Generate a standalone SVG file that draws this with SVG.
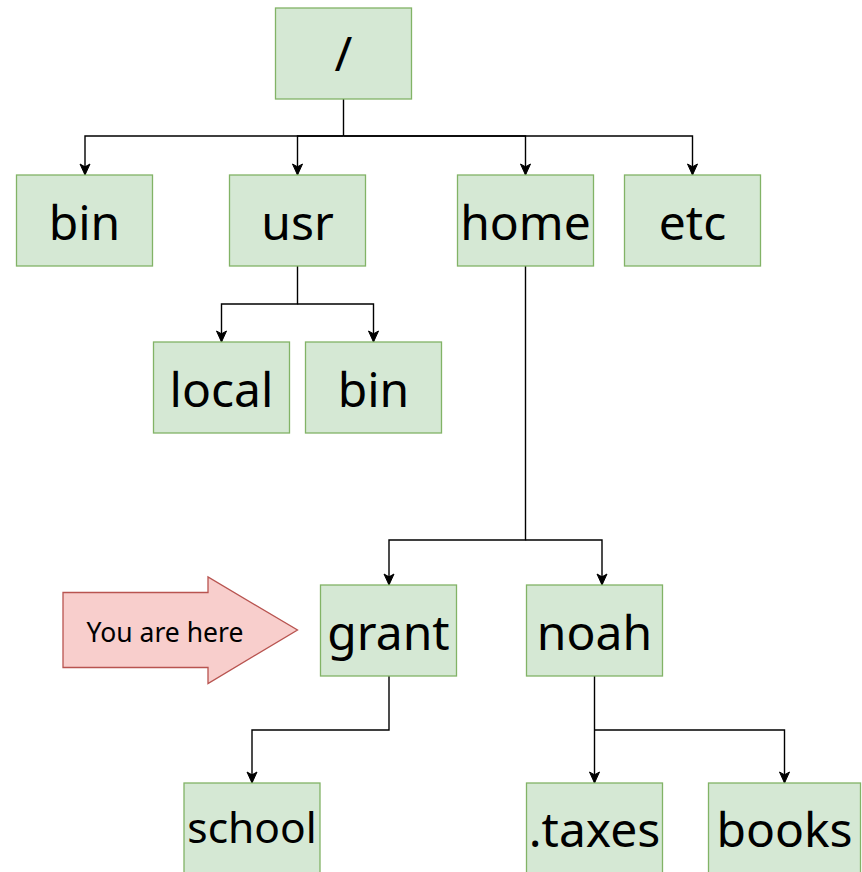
<svg xmlns="http://www.w3.org/2000/svg" width="862" height="872" viewBox="0 0 862 872">
  <style>
    .box { fill: #d5e8d4; stroke: #82b366; stroke-width: 1.3; }
    .lbl { font-family: "Noto Sans", "Open Sans", sans-serif; font-size: 48px; fill: #000; text-anchor: middle; }
    .edge { fill: none; stroke: #000; stroke-width: 1.4; }
    .pointer { fill: #f8cecc; stroke: #b85450; stroke-width: 1.3; }
  </style>
  <defs>
    <marker id="arrow" markerUnits="userSpaceOnUse" markerWidth="13" markerHeight="13" refX="12" refY="6.5" orient="auto">
      <path d="M1,1.5 L12,6.5 L1,11.5 L3.8,6.5 z" fill="#000" stroke="#000" stroke-width="1"/>
    </marker>
  </defs>
  <rect width="862" height="872" fill="#fff"/>

  <g id="connectors">
    <path class="edge" d="M343.5,99 V136"/>
    <path class="edge" d="M343.5,136 H85 V175" marker-end="url(#arrow)"/>
    <path class="edge" d="M343.5,136 H297.5 V175" marker-end="url(#arrow)"/>
    <path class="edge" d="M343.5,136 H525.5 V175" marker-end="url(#arrow)"/>
    <path class="edge" d="M343.5,136 H692.5 V175" marker-end="url(#arrow)"/>
    <path class="edge" d="M297.5,266 V304 H221.5 V342" marker-end="url(#arrow)"/>
    <path class="edge" d="M297.5,304 H373.5 V342" marker-end="url(#arrow)"/>
    <path class="edge" d="M525.5,266 V540 H389 V585" marker-end="url(#arrow)"/>
    <path class="edge" d="M525.5,540 H602 V585" marker-end="url(#arrow)"/>
    <path class="edge" d="M389,676 V730 H252 V783" marker-end="url(#arrow)"/>
    <path class="edge" d="M594.5,676 V783" marker-end="url(#arrow)"/>
    <path class="edge" d="M594.5,730 H784.5 V783" marker-end="url(#arrow)"/>
  </g>

  <g id="root">
    <rect class="box" x="275.5" y="8" width="136" height="91"/>
    <text class="lbl" x="343.5" y="71">/</text>
  </g>
  <g id="bin">
    <rect class="box" x="16.5" y="175" width="136" height="91"/>
    <text class="lbl" x="84.5" y="240">bin</text>
  </g>
  <g id="usr">
    <rect class="box" x="229.5" y="175" width="136" height="91"/>
    <text class="lbl" x="297.5" y="240">usr</text>
  </g>
  <g id="home">
    <rect class="box" x="457.5" y="175" width="136" height="91"/>
    <text class="lbl" x="525.5" y="240">home</text>
  </g>
  <g id="etc">
    <rect class="box" x="624.5" y="175" width="136" height="91"/>
    <text class="lbl" x="692.5" y="240">etc</text>
  </g>
  <g id="usr-local">
    <rect class="box" x="153.5" y="342" width="136" height="91"/>
    <text class="lbl" x="221.5" y="407">local</text>
  </g>
  <g id="usr-bin">
    <rect class="box" x="305.5" y="342" width="136" height="91"/>
    <text class="lbl" x="373.5" y="407">bin</text>
  </g>
  <g id="grant">
    <rect class="box" x="320.5" y="585" width="136" height="91"/>
    <text class="lbl" x="388.5" y="650">grant</text>
  </g>
  <g id="noah">
    <rect class="box" x="526.5" y="585" width="136" height="91"/>
    <text class="lbl" x="594.5" y="650">noah</text>
  </g>
  <g id="school">
    <rect class="box" x="184" y="783" width="136" height="91"/>
    <text class="lbl" x="252" y="843" style="font-size:42.5px">school</text>
  </g>
  <g id="taxes">
    <rect class="box" x="526.5" y="783" width="136" height="91"/>
    <text class="lbl" x="594.5" y="847">.taxes</text>
  </g>
  <g id="books">
    <rect class="box" x="708.5" y="783" width="152" height="91"/>
    <text class="lbl" x="784.5" y="847">books</text>
  </g>

  <g id="you-are-here">
    <path class="pointer" d="M63,592.5 H208 V577 L297.5,630 L208,683.5 V667.5 H63 Z"/>
    <text x="165" y="642" style="font-family:'Noto Sans','Open Sans',sans-serif;font-size:26.5px;text-anchor:middle;fill:#000">You are here</text>
  </g>
</svg>
